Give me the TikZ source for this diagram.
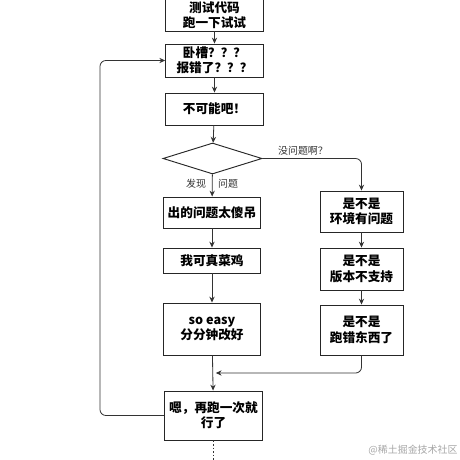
\documentclass[tikz,border=0pt]{standalone}
\usepackage{fontspec}
\setmainfont{Noto Sans CJK SC}
\usetikzlibrary{shapes.geometric, arrows.meta, positioning, calc}

\begin{document}
\begin{tikzpicture}[x=0.03cm, y=-0.03cm,
  fbox/.style={draw=black!85, line width=0.8pt, fill=white, align=center, inner sep=2pt, font=\bfseries\fontsize{10.8}{13}\selectfont, minimum width=2.93cm},
  rbox/.style={fbox, minimum width=2.49cm},
  decide/.style={diamond, draw=black!85, line width=0.8pt, inner sep=0pt, minimum width=2.97cm, minimum height=0.93cm},
  flow/.style={draw=black!80, line width=0.7pt, -{Stealth[length=5pt,width=4.5pt]}, rounded corners=5pt},
  lbl/.style={font=\fontsize{8.5}{10}\selectfont, inner sep=1pt, text=black!80}
]
  \useasboundingbox (0,0) rectangle (460,460);
  % left column
  \node[fbox, minimum height=0.96cm] (test) at (214.5,15) {测试代码\\跑一下试试};
  \node[fbox, minimum height=0.99cm] (wtf) at (214.5,60.5) {卧槽？？？\\报错了？？？};
  \node[fbox, minimum height=0.96cm] (nope) at (214.5,109) {不可能吧！};
  \node[decide] (check) at (212.5,158.5) {};
  \node[fbox, minimum height=0.93cm] (silly) at (212,212.5) {出的问题太傻吊};
  \node[fbox, minimum height=0.75cm] (noob) at (212,260.5) {我可真菜鸡};
  \node[fbox, minimum height=1.56cm] (easy) at (212,329) {so easy\\分分钟改好};
  \node[fbox, minimum height=1.47cm] (rerun) at (213.5,415.5) {嗯，再跑一次就\\行了};
  % right column
  \node[rbox, minimum height=1.23cm] (env) at (361.5,211.5) {是不是\\环境有问题};
  \node[rbox, minimum height=1.26cm] (ver) at (361.5,269) {是不是\\版本不支持};
  \node[rbox, minimum height=1.5cm] (wrong) at (361.5,330) {是不是\\跑错东西了};
  % connectors
  \draw[flow] (test) -- (wtf);
  \draw[flow] (wtf) -- (nope);
  \draw[flow] (nope) -- (check);
  \draw[flow] (check) -- (silly);
  \draw[flow] (silly) -- (noob);
  \draw[flow] (noob) -- (easy);
  \draw[flow] (easy) -- (rerun);
  \draw[flow] (check.east) -| (env.north);
  \draw[flow] (env) -- (ver);
  \draw[flow] (ver) -- (wrong);
  \coordinate (merge) at ($(easy.south)!0.5!(rerun.north)+(3,0)$);
  \draw[flow] (wrong.south) |- (merge);
  \coordinate (loop) at (100,0);
  \draw[flow] (rerun.west) -| (loop |- wtf.west) -- (wtf.west);
  \draw[draw=black!80, line width=0.7pt, dash pattern=on 1.5pt off 1.5pt] (rerun.south) -- ++(0,22);
  % labels
  \node[lbl] (found) at (196,184) {发现};
  \node[lbl] (issue) at (228,184) {问题};
  \node[lbl] (fine) at (303,151) {没问题啊？};
  \node[lbl, text=black!35] (mark) at (413,450) {@稀土掘金技术社区};
\end{tikzpicture}
\end{document}
